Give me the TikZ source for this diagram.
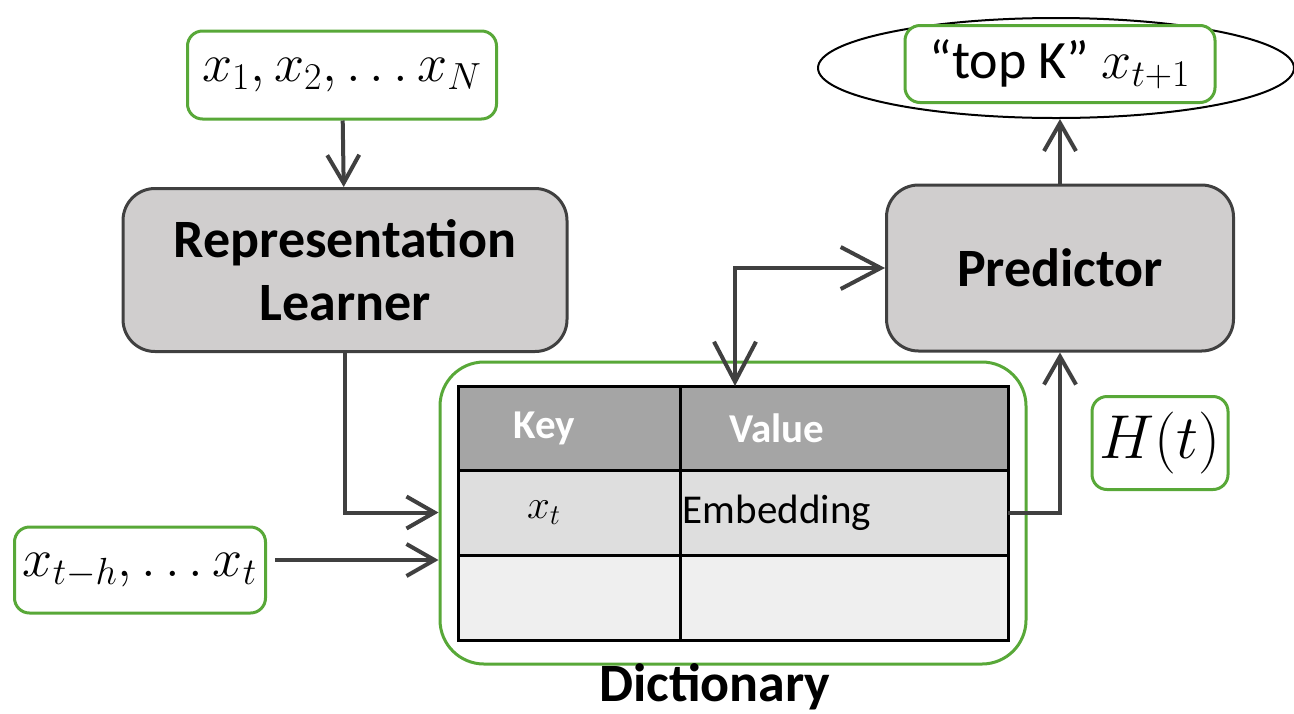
\RequirePackage{fix-cm}
\documentclass[tikz,border=0pt]{standalone}
\usepackage{fontspec}
\setmainfont{Carlito}
\usepackage{xcolor}
\usetikzlibrary{shapes.geometric, arrows.meta, positioning, fit}
\definecolor{grn}{RGB}{88,168,56}
\definecolor{boxgray}{RGB}{208,206,206}
\definecolor{edgegray}{RGB}{64,64,64}
\definecolor{linegray}{RGB}{64,64,64}
\definecolor{headgray}{RGB}{165,165,165}
\definecolor{rowone}{RGB}{222,222,222}
\definecolor{rowtwo}{RGB}{239,239,239}
\newcommand{\bigbold}{\fontsize{27}{31.5}\selectfont\bfseries}
\newcommand{\bigtext}{\fontsize{27}{31.5}\selectfont}
\newcommand{\celltext}{\fontsize{20.5}{24}\selectfont}
\tikzstyle{inbox} = [rectangle, rounded corners=7.5pt, draw=grn, line width=1.5pt, fill=white, text centered, inner sep=0pt, font=\bigtext]
\tikzstyle{block} = [rectangle, rounded corners=16pt, draw=edgegray, line width=1.5pt, fill=boxgray, align=center, font=\bigbold]
\tikzstyle{cell} = [rectangle, draw=black, line width=1.5pt, outer sep=0pt, inner sep=0pt, minimum height=42.5pt, font=\celltext]
\tikzstyle{hcell} = [cell, fill=headgray, text=white, minimum height=42pt, font=\celltext\bfseries]
\tikzstyle{arrow} = [line width=2pt, draw=linegray, -{Straight Barb[length=14pt,width=16pt]}]
\tikzstyle{bigarrow} = [line width=2pt, draw=linegray, {Straight Barb[length=20pt,width=21pt]}-{Straight Barb[length=20pt,width=21pt]}]

\begin{document}
\begin{tikzpicture}[x=0.5pt, y=-0.5pt]
\useasboundingbox (0,0) rectangle (1294,713);

\node (series) [inbox, minimum width=154.5pt, minimum height=44pt] at (342,75) {$x_1, x_2, \ldots x_N$};

\node (learner) [block, minimum width=222pt, minimum height=81.5pt] at (345,270) {Representation\\Learner};

\node (window) [inbox, minimum width=125.5pt, minimum height=43pt] at (140,570) {$x_{t-h}, \ldots x_t$};

\node (predictor) [block, minimum width=173.5pt, minimum height=83pt] at (1060,268) {Predictor};

\node (topk) [ellipse, draw=black, line width=1pt, minimum width=238pt, minimum height=50pt, inner sep=0pt] at (1056,68) {};

\node (topkbox) [inbox, minimum width=155pt, minimum height=38.5pt] at (1060,64) {``top K'' $x_{t+1}$};

\node (hist) [inbox, minimum width=68pt, minimum height=46.5pt, font=\fontsize{31}{34}\selectfont] at (1160,443) {$H(t)$};

% table
\node (keyh) [hcell, minimum width=111pt] at (569,428) {Key\hspace*{25pt}};
\node (valh) [hcell, minimum width=164pt, right=0pt of keyh] {Value\hspace*{67pt}};
\node (xt) [cell, fill=rowone, minimum width=111pt, below=0pt of keyh] {$x_t$\hspace*{25pt}};
\node (emb) [cell, fill=rowone, minimum width=164pt, below=0pt of valh] {Embedding\hspace*{67pt}};
\node (k2) [cell, fill=rowtwo, minimum width=111pt, below=0pt of xt] {};
\node (v2) [cell, fill=rowtwo, minimum width=164pt, below=0pt of emb] {};

\node (dict) [draw=grn, line width=1.5pt, rounded corners=22pt, fit=(keyh)(v2), inner xsep=9pt, inner ysep=12pt] {};
\node (dictlbl) [below=-1pt of dict.south, xshift=-9pt, inner sep=0pt, font=\bigbold] {Dictionary};

% Arrows
\draw [arrow] (series) -- (learner);
\draw [arrow] (learner.south) |- (xt.west -| dict.west);
\draw [arrow] ([xshift=4pt, yshift=5pt]window.east) -- ([yshift=5pt]window.east -| dict.west);
\draw [bigarrow] ([xshift=27.5pt]valh.north west) |- (predictor.west);
\draw [arrow] (emb.east) -| (predictor.south);
\draw [arrow] (predictor.north) -- (predictor.north |- topk.south);

\end{tikzpicture}
\end{document}
